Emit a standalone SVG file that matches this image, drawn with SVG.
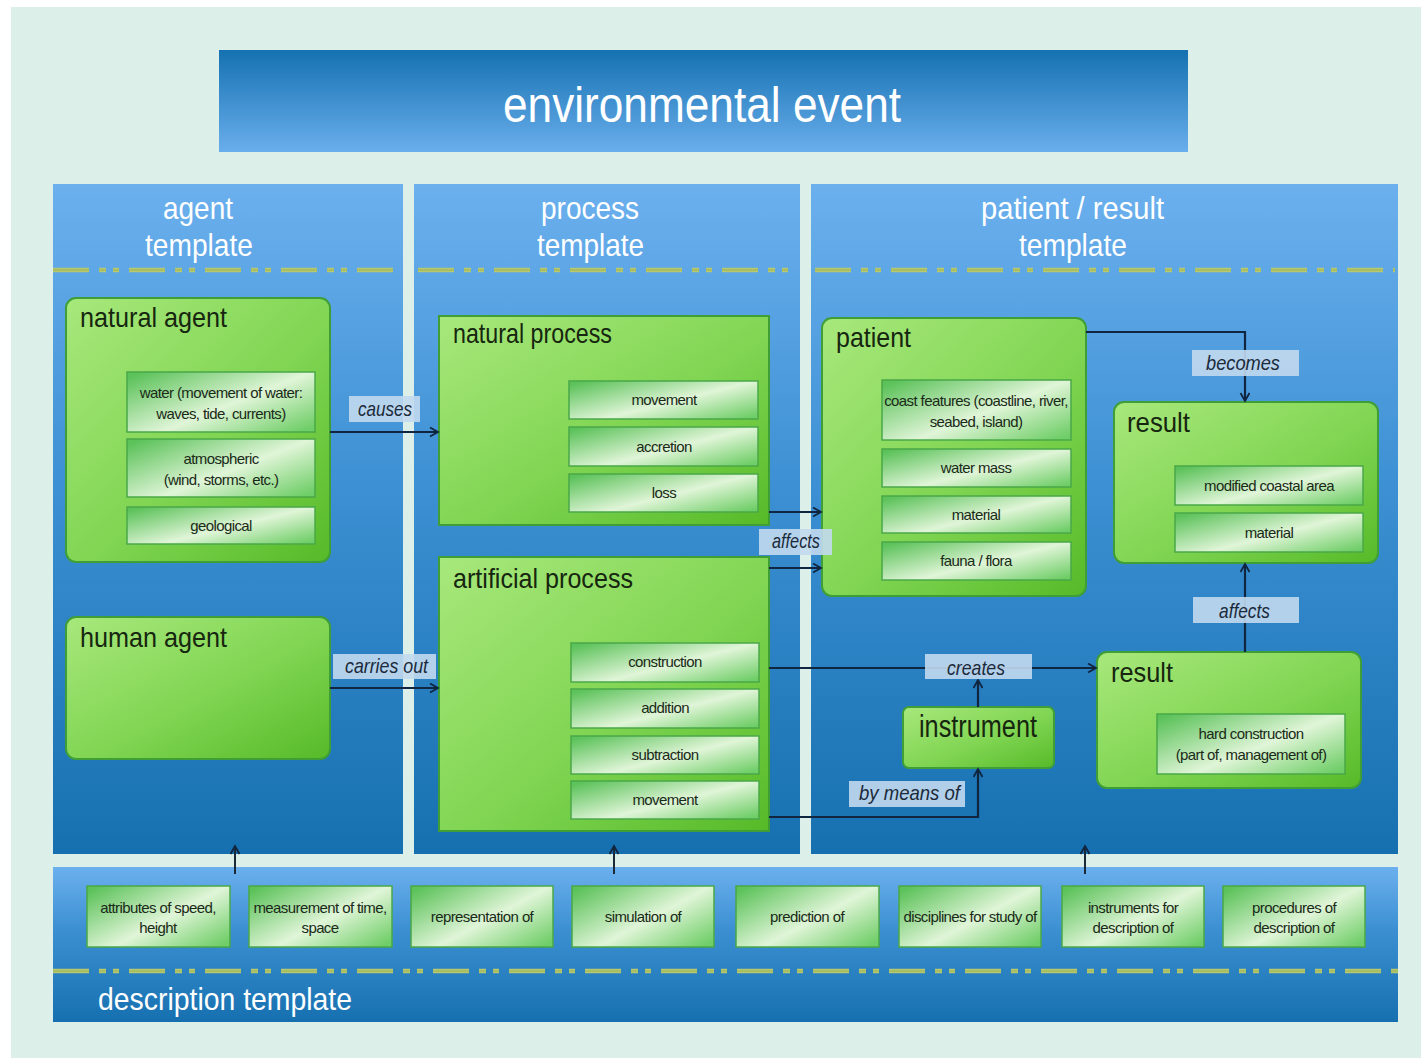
<svg xmlns="http://www.w3.org/2000/svg" width="1421" height="1058" viewBox="0 0 1421 1058">
<defs>
  <linearGradient id="colGrad" x1="0" y1="0" x2="0" y2="1">
    <stop offset="0" stop-color="#6cb0ee"/>
    <stop offset="0.45" stop-color="#3c90d3"/>
    <stop offset="1" stop-color="#1670b0"/>
  </linearGradient>
  <linearGradient id="titleGrad" x1="0" y1="0" x2="0" y2="1">
    <stop offset="0" stop-color="#1571b1"/>
    <stop offset="1" stop-color="#6aaeec"/>
  </linearGradient>
  <linearGradient id="descGrad" x1="0" y1="0" x2="0" y2="1">
    <stop offset="0" stop-color="#6cb0ee"/>
    <stop offset="0.4" stop-color="#3c90d2"/>
    <stop offset="1" stop-color="#1670b0"/>
  </linearGradient>
  <linearGradient id="greenGrad" x1="0" y1="0" x2="1" y2="1">
    <stop offset="0" stop-color="#a8e87c"/>
    <stop offset="0.55" stop-color="#80d552"/>
    <stop offset="1" stop-color="#56ba28"/>
  </linearGradient>
  <linearGradient id="subGrad" x1="0" y1="0.1" x2="1" y2="0.9">
    <stop offset="0" stop-color="#5cc25a"/>
    <stop offset="0.55" stop-color="#e0f5d8"/>
    <stop offset="1" stop-color="#70ce68"/>
  </linearGradient>
  <marker id="arr" markerWidth="12" markerHeight="12" refX="9" refY="5" orient="auto" markerUnits="userSpaceOnUse">
    <path d="M1,0.5 L9,5 L1,9.5" fill="none" stroke="#10253f" stroke-width="1.8"/>
  </marker>
  <style>
    .col { fill: url(#colGrad); }
    .green { fill: url(#greenGrad); stroke: #3f9e36; stroke-width: 2; }
    .sub { fill: url(#subGrad); stroke: #4aa848; stroke-width: 1.5; }
    .dashA { stroke: #b8c86e; stroke-width: 4.5; stroke-dasharray: 36 10 7 7 6 10; fill: none; }
    .dashB { stroke: #97b45c; stroke-width: 1.2; stroke-dasharray: 36 10 7 7 6 10; fill: none; }
    text { font-family: "Liberation Sans", Arial, sans-serif; }
    .hdr { font-size: 32px; fill: #ffffff; }
    .ttl { font-size: 28px; fill: #16260f; }
    .st { font-size: 15px; letter-spacing: -0.6px; fill: #1a2a18; text-anchor: middle; }
    .lblbg { fill: #c2d9ee; fill-opacity: 0.9; }
    .lbl { font-size: 21px; font-style: italic; fill: #1b2a3a; }
    .conn { fill: none; stroke: #10253f; stroke-width: 2.2; }
    .up { fill: none; stroke: #1a2a38; stroke-width: 2; }
  </style>
</defs>

<!-- background -->
<rect x="0" y="0" width="1421" height="1058" fill="#ffffff"/>
<rect x="11" y="7" width="1410" height="1051" fill="#dcefe9"/>

<!-- title -->
<g id="title">
  <rect x="219" y="50" width="969" height="102" fill="url(#titleGrad)"/>
  <text x="503" y="122" class="hdr" style="font-size:50px" textLength="398" lengthAdjust="spacingAndGlyphs">environmental event</text>
</g>

<!-- columns -->
<g id="agent-template">
  <rect x="53" y="184" width="350" height="670" class="col"/>
  <text x="163" y="219" class="hdr" textLength="70" lengthAdjust="spacingAndGlyphs">agent</text>
  <text x="145" y="256" class="hdr" textLength="108" lengthAdjust="spacingAndGlyphs">template</text>
  <line x1="53" y1="270" x2="402" y2="270" class="dashA"/>
  <line x1="53" y1="270" x2="402" y2="270" class="dashB"/>
</g>
<g id="process-template">
  <rect x="414" y="184" width="386" height="670" class="col"/>
  <text x="541" y="219" class="hdr" textLength="98" lengthAdjust="spacingAndGlyphs">process</text>
  <text x="537" y="256" class="hdr" textLength="107" lengthAdjust="spacingAndGlyphs">template</text>
  <line x1="418" y1="270" x2="792" y2="270" class="dashA"/>
  <line x1="418" y1="270" x2="792" y2="270" class="dashB"/>
</g>
<g id="patient-result-template">
  <rect x="811" y="184" width="587" height="670" class="col"/>
  <text x="981" y="219" class="hdr" textLength="183" lengthAdjust="spacingAndGlyphs">patient / result</text>
  <text x="1019" y="256" class="hdr" textLength="108" lengthAdjust="spacingAndGlyphs">template</text>
  <line x1="815" y1="270" x2="1395" y2="270" class="dashA"/>
  <line x1="815" y1="270" x2="1395" y2="270" class="dashB"/>
</g>

<!-- description template -->
<g id="description-template">
  <rect x="53" y="867" width="1345" height="155" fill="url(#descGrad)"/>
  <line x1="53" y1="971" x2="1398" y2="971" class="dashA"/>
  <line x1="53" y1="971" x2="1398" y2="971" class="dashB"/>
  <text x="98" y="1010" class="hdr" textLength="254" lengthAdjust="spacingAndGlyphs">description template</text>
</g>
<g id="desc-items">
  <rect x="87" y="886" width="143" height="61" class="sub"/>
  <text x="158" y="913" class="st">attributes of speed,</text>
  <text x="158" y="933" class="st">height</text>
  <rect x="249" y="886" width="143" height="61" class="sub"/>
  <text x="320" y="913" class="st">measurement of time,</text>
  <text x="320" y="933" class="st">space</text>
  <rect x="411" y="886" width="142" height="61" class="sub"/>
  <text x="482" y="922" class="st">representation of</text>
  <rect x="572" y="886" width="142" height="61" class="sub"/>
  <text x="643" y="922" class="st">simulation of</text>
  <rect x="736" y="886" width="143" height="61" class="sub"/>
  <text x="807" y="922" class="st">prediction of</text>
  <rect x="899" y="886" width="142" height="61" class="sub"/>
  <text x="970" y="922" class="st">disciplines for study of</text>
  <rect x="1062" y="886" width="142" height="61" class="sub"/>
  <text x="1133" y="913" class="st">instruments for</text>
  <text x="1133" y="933" class="st">description of</text>
  <rect x="1223" y="886" width="142" height="61" class="sub"/>
  <text x="1294" y="913" class="st">procedures of</text>
  <text x="1294" y="933" class="st">description of</text>
</g>

<!-- natural agent -->
<g id="natural-agent">
  <rect x="66" y="298" width="264" height="264" rx="10" class="green"/>
  <text x="80" y="327" class="ttl" textLength="147" lengthAdjust="spacingAndGlyphs">natural agent</text>
  <rect x="127" y="372" width="188" height="60" class="sub"/>
  <text x="221" y="398" class="st">water (movement of water:</text>
  <text x="221" y="419" class="st">waves, tide, currents)</text>
  <rect x="127" y="439" width="188" height="58" class="sub"/>
  <text x="221" y="464" class="st">atmospheric</text>
  <text x="221" y="485" class="st">(wind, storms, etc.)</text>
  <rect x="127" y="507" width="188" height="37" class="sub"/>
  <text x="221" y="531" class="st">geological</text>
</g>

<!-- human agent -->
<g id="human-agent">
  <rect x="66" y="617" width="264" height="142" rx="10" class="green"/>
  <text x="80" y="647" class="ttl" textLength="147" lengthAdjust="spacingAndGlyphs">human agent</text>
</g>

<!-- natural process -->
<g id="natural-process">
  <rect x="439" y="316" width="330" height="209" class="green"/>
  <text x="453" y="343" class="ttl" textLength="159" lengthAdjust="spacingAndGlyphs">natural process</text>
  <rect x="569" y="381" width="189" height="38" class="sub"/>
  <text x="664" y="405" class="st">movement</text>
  <rect x="569" y="427" width="189" height="39" class="sub"/>
  <text x="664" y="452" class="st">accretion</text>
  <rect x="569" y="474" width="189" height="38" class="sub"/>
  <text x="664" y="498" class="st">loss</text>
</g>

<!-- artificial process -->
<g id="artificial-process">
  <rect x="439" y="557" width="330" height="274" class="green"/>
  <text x="453" y="588" class="ttl" textLength="180" lengthAdjust="spacingAndGlyphs">artificial process</text>
  <rect x="571" y="643" width="188" height="39" class="sub"/>
  <text x="665" y="667" class="st">construction</text>
  <rect x="571" y="689" width="188" height="39" class="sub"/>
  <text x="665" y="713" class="st">addition</text>
  <rect x="571" y="736" width="188" height="38" class="sub"/>
  <text x="665" y="760" class="st">subtraction</text>
  <rect x="571" y="781" width="188" height="38" class="sub"/>
  <text x="665" y="805" class="st">movement</text>
</g>

<!-- patient -->
<g id="patient">
  <rect x="822" y="318" width="264" height="278" rx="10" class="green"/>
  <text x="836" y="347" class="ttl" textLength="75" lengthAdjust="spacingAndGlyphs">patient</text>
  <rect x="882" y="380" width="189" height="60" class="sub"/>
  <text x="976" y="406" class="st">coast features (coastline, river,</text>
  <text x="976" y="427" class="st">seabed, island)</text>
  <rect x="882" y="449" width="189" height="38" class="sub"/>
  <text x="976" y="473" class="st">water mass</text>
  <rect x="882" y="496" width="189" height="37" class="sub"/>
  <text x="976" y="520" class="st">material</text>
  <rect x="882" y="542" width="189" height="38" class="sub"/>
  <text x="976" y="566" class="st">fauna / flora</text>
</g>

<!-- result (top) -->
<g id="result-top">
  <rect x="1114" y="402" width="264" height="161" rx="10" class="green"/>
  <text x="1127" y="432" class="ttl" textLength="63" lengthAdjust="spacingAndGlyphs">result</text>
  <rect x="1175" y="466" width="188" height="39" class="sub"/>
  <text x="1269" y="491" class="st">modified coastal area</text>
  <rect x="1175" y="513" width="188" height="39" class="sub"/>
  <text x="1269" y="538" class="st">material</text>
</g>

<!-- result (lower) -->
<g id="result-bottom">
  <rect x="1097" y="652" width="264" height="136" rx="10" class="green"/>
  <text x="1111" y="682" class="ttl" textLength="62" lengthAdjust="spacingAndGlyphs">result</text>
  <rect x="1157" y="714" width="188" height="60" class="sub"/>
  <text x="1251" y="739" class="st">hard construction</text>
  <text x="1251" y="760" class="st">(part of, management of)</text>
</g>

<!-- instrument -->
<g id="instrument">
  <rect x="903" y="707" width="151" height="61" rx="6" class="green"/>
  <text x="919" y="737" class="ttl" style="font-size:31px" textLength="118" lengthAdjust="spacingAndGlyphs">instrument</text>
</g>

<!-- connectors -->
<g id="connectors">
  <line x1="330" y1="432" x2="438" y2="432" class="conn" marker-end="url(#arr)"/>
  <line x1="330" y1="688" x2="438" y2="688" class="conn" marker-end="url(#arr)"/>
  <line x1="769" y1="512" x2="821" y2="512" class="conn" marker-end="url(#arr)"/>
  <line x1="769" y1="568" x2="821" y2="568" class="conn" marker-end="url(#arr)"/>
  <path d="M1086,332 H1245 V401" class="conn" marker-end="url(#arr)"/>
  <line x1="1245" y1="652" x2="1245" y2="564" class="conn" marker-end="url(#arr)"/>
  <line x1="769" y1="668" x2="1096" y2="668" class="conn" marker-end="url(#arr)"/>
  <line x1="978" y1="707" x2="978" y2="680" class="conn" marker-end="url(#arr)"/>
  <path d="M769,817 H978 V769" class="conn" marker-end="url(#arr)"/>
  <line x1="235" y1="874" x2="235" y2="846" class="up" marker-end="url(#arr)"/>
  <line x1="614" y1="874" x2="614" y2="846" class="up" marker-end="url(#arr)"/>
  <line x1="1085" y1="874" x2="1085" y2="846" class="up" marker-end="url(#arr)"/>

  <rect x="349" y="396" width="71" height="26" class="lblbg"/>
  <text x="358" y="416" class="lbl" textLength="54" lengthAdjust="spacingAndGlyphs">causes</text>
  <rect x="333" y="654" width="103" height="25" class="lblbg"/>
  <text x="345" y="673" class="lbl" textLength="83" lengthAdjust="spacingAndGlyphs">carries out</text>
  <rect x="759" y="529" width="73" height="26" class="lblbg"/>
  <text x="772" y="548" class="lbl" textLength="48" lengthAdjust="spacingAndGlyphs">affects</text>
  <rect x="1192" y="350" width="107" height="26" class="lblbg"/>
  <text x="1206" y="370" class="lbl" textLength="74" lengthAdjust="spacingAndGlyphs">becomes</text>
  <rect x="1193" y="597" width="106" height="26" class="lblbg"/>
  <text x="1219" y="618" class="lbl" textLength="51" lengthAdjust="spacingAndGlyphs">affects</text>
  <rect x="925" y="654" width="107" height="25" class="lblbg"/>
  <text x="947" y="675" class="lbl" textLength="58" lengthAdjust="spacingAndGlyphs">creates</text>
  <rect x="849" y="781" width="116" height="26" class="lblbg"/>
  <text x="859" y="800" class="lbl" textLength="101" lengthAdjust="spacingAndGlyphs">by means of</text>
</g>
</svg>
